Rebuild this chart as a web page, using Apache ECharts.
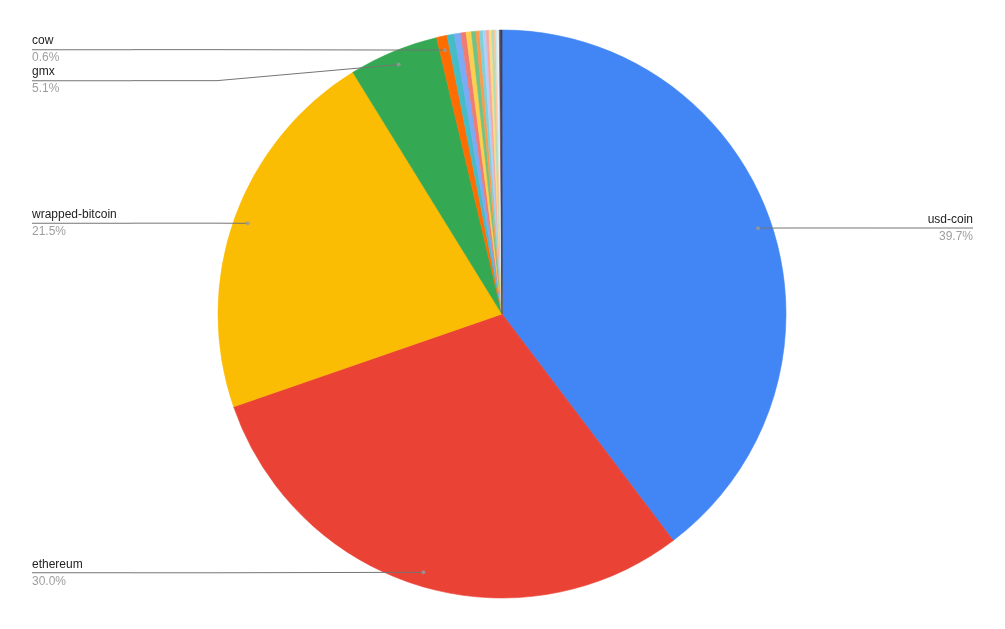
<!DOCTYPE html>
<html>
<head>
<meta charset="utf-8">
<script src="https://cdn.jsdelivr.net/npm/echarts@6/dist/echarts.min.js"></script>
<style>
html,body{margin:0;padding:0;background:#fff;}
#chart{width:1005px;height:629px;}
</style>
</head>
<body>
<div id="chart"></div>
<script>
const categories = ['usd-coin','ethereum','wrapped-bitcoin','gmx','cow',
  'magic','arbitrum','uniswap','chainlink','dai','tether','lido-dao','frax','dopex',
  'radiant-capital','pendle','jones-dao','stargate-finance','sushi','curve-dao-token','vela-token','plutusdao'];
const shares = [39.7, 30.0, 21.5, 5.1, 0.6,
  0.42, 0.36, 0.30, 0.30, 0.25, 0.20, 0.20, 0.18, 0.16,
  0.15, 0.13, 0.10, 0.08, 0.07, 0.05, 0.10, 0.05];
const colors = ['#4285F4','#EA4335','#FBBC04','#34A853','#FF6D01',
  '#46BDC6','#7BAAF7','#F07B72','#FCD04F','#71C287','#FF994D','#7ED1D7','#B3CEFB','#F7A7A0',
  '#FDDE82','#AEDCBA','#FFC499','#C8EBEE','#E3EDFD','#F4F4F4','#5B4A68','#3C3C3C'];
const labeledNames = ['usd-coin','ethereum','wrapped-bitcoin','gmx','cow'];

const font = '"Liberation Sans", Arial, sans-serif';
const pieData = categories.map((c, i) => ({
  name: c, value: shares[i],
  itemStyle: {color: colors[i], borderColor: colors[i], borderWidth: 0.6}
}));
const total = shares.reduce((a, b) => a + b, 0);

const labelData = categories.map((c, i) => {
  const show = labeledNames.indexOf(c) >= 0;
  return {name: c, value: shares[i], label: {show: show}, labelLine: {show: show}};
});

// dots at the mid-angle of labeled slices
const dots = [];
let cum = 0;
categories.forEach((c, i) => {
  const mid = (cum + shares[i] / 2) / total * 100;
  if (labeledNames.indexOf(c) >= 0) dots.push([1, mid]);
  cum += shares[i];
});

const ELBOW = 85;

const chart = echarts.init(document.getElementById('chart'));
chart.setOption({
  backgroundColor: '#ffffff',
  animation: false,
  polar: {center: [502, 314], radius: 270},
  angleAxis: {type: 'value', min: 0, max: 100, startAngle: 90, clockwise: true, show: false},
  radiusAxis: {type: 'value', min: 0, max: 1, show: false},
  series: [
    {
      type: 'pie',
      center: [502, 314],
      radius: [0, 284],
      startAngle: 90,
      clockwise: true,
      silent: true,
      padAngle: 0,
      label: {show: false},
      labelLine: {show: false},
      data: pieData
    },
    {
      type: 'pie',
      center: [502, 314],
      radius: [0, 270],
      startAngle: 90,
      clockwise: true,
      silent: true,
      itemStyle: {color: 'rgba(0,0,0,0)', borderWidth: 0, borderColor: 'rgba(0,0,0,0)'},
      label: {
        position: 'outer',
        alignTo: 'edge',
        edgeDistance: 32,
        distanceToLabelLine: 0,
        formatter: p => '{n|' + p.name + '}\n{r|}\n{p|' + p.value.toFixed(1) + '%}',
        rich: {
          n: {fontSize: 12, color: '#222222', lineHeight: 16, fontFamily: font},
          r: {width: 100, height: 1, lineHeight: 1, backgroundColor: '#757575'},
          p: {fontSize: 12, color: '#9e9e9e', lineHeight: 16, fontFamily: font}
        }
      },
      labelLine: {length: 0.5, length2: ELBOW, minTurnAngle: 0, maxSurfaceAngle: 180,
        lineStyle: {color: '#757575', width: 1}},
      labelLayout: function (params) {
        const pts = params.labelLinePoints;
        if (!pts || pts.length < 3) return {};
        const isLeft = pts[2][0] < pts[0][0];
        const np = [
          [pts[0][0], pts[0][1]],
          [pts[2][0] + (isLeft ? ELBOW : -ELBOW), pts[2][1]],
          [pts[2][0], pts[2][1]]
        ];
        return {labelLinePoints: np};
      },
      data: labelData,
      z: 3
    },
    {
      type: 'scatter',
      coordinateSystem: 'polar',
      symbol: 'circle',
      symbolSize: 4,
      itemStyle: {color: '#9a9a9a'},
      silent: true,
      data: dots,
      z: 4
    }
  ]
});
</script>
</body>
</html>
